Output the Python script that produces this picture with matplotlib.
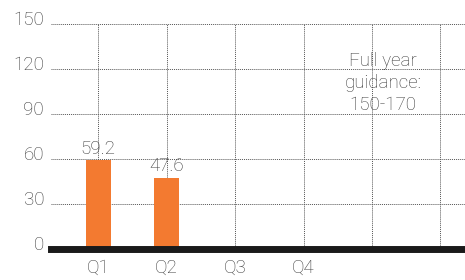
import matplotlib
matplotlib.use("Agg")
import matplotlib.pyplot as plt
import matplotlib.transforms as mtransforms
from matplotlib.patches import Rectangle

# datos
trimestres = ["Q1", "Q2", "Q3", "Q4", "", ""]
valores = [59.2, 47.6]
etiquetas = ["59.2", "47.6"]
y_ticks = [0, 30, 60, 90, 120, 150]
guia = "Full year\nguidance:\n150-170"

plt.rcParams["font.family"] = ["Roboto", "DejaVu Sans"]
gris = "#3a3a3a"
naranja = "#F37A30"
fs = 13.5

fig = plt.figure(figsize=(4.65, 2.8), dpi=100)
ax = fig.add_axes([51 / 465, 31 / 280, 1 - 51 / 465, 225 / 280])

x = list(range(len(trimestres)))
ax.bar(x[:len(valores)], valores, width=0.37, color=naranja, zorder=3)

for xi, v, t in zip(x, valores, etiquetas):
    ax.text(xi, v + 1.5, t, ha="center", va="bottom", fontsize=fs,
            color=gris, fontweight="light", zorder=4)

ax.set_xlim(-0.69, 5.36)
ax.set_ylim(0, 150)
ax.set_yticks(y_ticks)
ax.set_xticks(x)
ax.set_xticklabels(trimestres)

ax.grid(True, color="#555555", linestyle=(0, (1, 1)), linewidth=0.7, zorder=0)

for s in ["top", "right", "left"]:
    ax.spines[s].set_visible(False)
ax.spines["bottom"].set_linewidth(5)
ax.spines["bottom"].set_color("#1a1a1a")
ax.spines["bottom"].set_zorder(5)

ax.tick_params(axis="both", length=0, labelsize=fs, labelcolor=gris)
ax.tick_params(axis="x", pad=7)
ax.tick_params(axis="y", pad=5)
for lab in ax.get_xticklabels() + ax.get_yticklabels():
    lab.set_fontweight("light")
off = mtransforms.ScaledTranslation(0, 6 / 100, fig.dpi_scale_trans)
for lab in ax.get_yticklabels():
    lab.set_transform(lab.get_transform() + off)

# caja blanca detras del texto (tapa la grilla solo arriba)
ax.add_patch(Rectangle((3.39, 92), 1.53, 39, facecolor="white",
                       edgecolor="none", zorder=1))
ax.text(4.16, 110.5, guia, ha="center", va="center", fontsize=fs,
        color=gris, fontweight="light", linespacing=1.3, zorder=4)

fig.savefig("out.png", dpi=100)
